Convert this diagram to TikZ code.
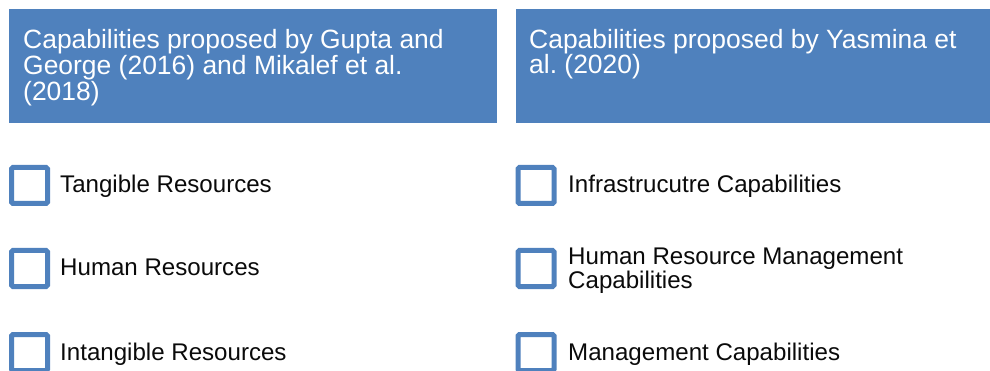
\documentclass[tikz,border=0pt]{standalone}
\usepackage{fontspec}
\setmainfont{Liberation Sans}
\frenchspacing
\definecolor{hdrblue}{HTML}{4F81BD}
\definecolor{itemtext}{HTML}{0A0A0A}
\begin{document}
\begin{tikzpicture}[x=1pt,y=-1pt,
  hdrbox/.style={fill=hdrblue,draw=none,rectangle,anchor=north west,inner sep=0pt},
  hdrtext/.style={anchor=base west,inner sep=0pt,text=white,font=\fontsize{26.45pt}{26pt}\selectfont},
  cbox/.style={draw=hdrblue,line width=5pt,rectangle,rounded corners=1.5pt,minimum size=36pt,inner sep=0pt,fill=white},
  itemtext/.style={anchor=base west,inner sep=0pt,text=itemtext,font=\fontsize{24.1pt}{24pt}\selectfont}]
\useasboundingbox (0,0) rectangle (990,371);
% headers
\node[hdrbox,minimum width=488pt,minimum height=114pt] (h1) at (9,9) {};
\node[hdrbox,minimum width=474pt,minimum height=114pt] (h2) at (516,9) {};
\node[hdrtext] (h1a) at (23,49) {Capabilities proposed by Gupta and};
\node[hdrtext] (h1b) at (23,75) {George (2016) and Mikalef et al.};
\node[hdrtext] (h1c) at (23,101) {(2018)};
\node[hdrtext] (h2a) at (529,49) {Capabilities proposed by Yasmina et};
\node[hdrtext] (h2b) at (529,74) {al. (2020)};
% left column
\node[cbox] (b1) at (29.5,185.5) {};
\node[cbox] (b2) at (29.5,268.5) {};
\node[cbox] (b3) at (29.5,352.5) {};
\node[itemtext] (t1) at (60,192.5) {Tangible Resources};
\node[itemtext] (t2) at (60,276) {Human Resources};
\node[itemtext] (t3) at (60,360) {Intangible Resources};
% right column
\node[cbox] (c1) at (536,185.5) {};
\node[cbox] (c2) at (536,268.5) {};
\node[cbox] (c3) at (536,352.5) {};
\node[itemtext] (u1) at (568,193) {Infrastrucutre Capabilities};
\node[itemtext] (u2a) at (568,265) {Human Resource Management};
\node[itemtext] (u2b) at (568,288) {Capabilities};
\node[itemtext] (u3) at (568,360) {Management Capabilities};
\end{tikzpicture}
\end{document}
